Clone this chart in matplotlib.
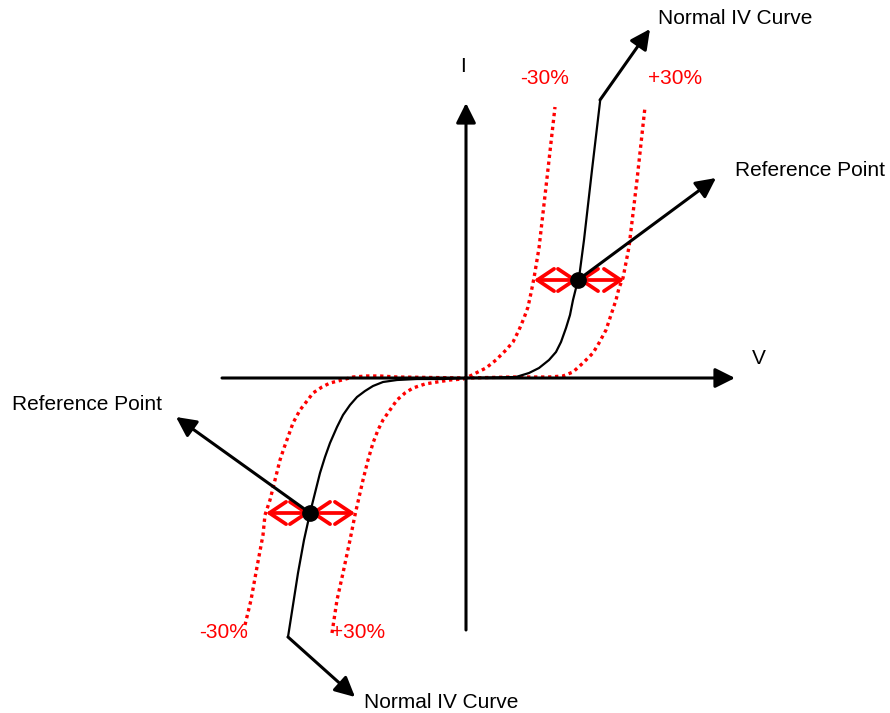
import matplotlib
matplotlib.use("Agg")
import matplotlib.pyplot as plt

plt.rcParams['font.family'] = ['Liberation Sans', 'DejaVu Sans']

# Schematic IV curves (V, I) relative to the origin of the axes
normal_v = [-178, -168, -162, -156, -151, -146, -141, -136, -129, -123, -116, -109, -101, -93, -83, -69, -49, -23,
            0, 50, 63, 73, 83, 90, 95, 100, 104, 107, 110, 113, 118, 126, 134]
normal_i = [-259, -195, -162, -135, -115, -95, -79, -65, -49, -37, -27, -19, -13, -8, -4, -2, -1, -1,
            0, 1, 5, 10, 18, 26, 36, 50, 63, 78, 90, 100, 138, 208, 276]

minus30_v = [-134, -129, -123, -116, -111, -106, -103, -98, -93, -88, -83, -76, -69, -61, -53, -41, -29, -16, -3,
             0, 10, 20, 30, 40, 47, 53, 58, 62, 65, 68, 73, 81, 89]
minus30_i = [-255, -222, -195, -162, -137, -115, -102, -82, -65, -52, -42, -32, -22, -15, -10, -6, -4, -2, -1,
             0, 5, 10, 18, 28, 36, 48, 60, 71, 85, 100, 130, 200, 271]

plus30_v = [-221, -215, -209, -203, -201, -196, -191, -186, -182, -178, -173, -166, -159, -153, -144, -136, -124,
            -113, -99, -86, -69, 0, 47, 83, 97, 107, 117, 127, 133, 140, 145, 150, 153, 157, 163, 171, 179]
plus30_i = [-247, -222, -189, -157, -137, -122, -102, -82, -70, -59, -45, -32, -23, -15, -9, -5, -2,
            1, 2, 2, 1, 0, 1, 1, 2, 6, 15, 25, 35, 48, 63, 78, 90, 100, 131, 198, 271]

ref_v = [-156, 112]
ref_i = [-135, 98]
ref_left = [-200, 68]
ref_right = [-111, 158]

fig = plt.figure(figsize=(8.9, 7.13), dpi=100)
ax = fig.add_axes([0, 0, 1, 1])
ax.set_xlim(-466, 424)
ax.set_ylim(-335, 378)
ax.axis('off')

head = '-|>,head_length=0.6,head_width=0.3'
# axes with arrows
ax.annotate('', xy=(269, 0), xytext=(-244, 0),
            arrowprops=dict(arrowstyle=head, color='black', lw=2.2, mutation_scale=20, shrinkA=0, shrinkB=0))
ax.annotate('', xy=(0, 275), xytext=(0, -252),
            arrowprops=dict(arrowstyle=head, color='black', lw=2.2, mutation_scale=20, shrinkA=0, shrinkB=0))

# curves
ax.plot(minus30_v, minus30_i, color='red', lw=2.4, linestyle=(0, (1, 1.1)))
ax.plot(plus30_v, plus30_i, color='red', lw=2.4, linestyle=(0, (1, 1.1)))
ax.plot(normal_v, normal_i, color='black', lw=1.6, solid_joinstyle='round')

# red double arrows at reference points
for v, i, l, r in zip(ref_v, ref_i, ref_left, ref_right):
    for end in (l, r):
        ax.annotate('', xy=(end, i), xytext=(v, i),
                    arrowprops=dict(arrowstyle='<->,head_length=0.6,head_width=0.4', color='red',
                                    lw=2.7, mutation_scale=20, shrinkA=0, shrinkB=0))

# black annotation arrows
black_arrows = [((134, 278), (184, 349)),
                ((112, 98), (250, 200)),
                ((-156, -135), (-290, -39)),
                ((-178, -259), (-111, -319))]
for start, end in black_arrows:
    ax.annotate('', xy=end, xytext=start,
                arrowprops=dict(arrowstyle=head, color='black', lw=2.2, mutation_scale=20, shrinkA=0, shrinkB=0))

ax.plot(ref_v, ref_i, 'o', color='black', markersize=11, zorder=10)

fs = 15
ax.text(192, 359, 'Normal IV Curve', fontsize=fs, ha='left', va='center')
ax.text(269, 208, 'Reference Point', fontsize=fs, ha='left', va='center')
ax.text(-454, -26, 'Reference Point', fontsize=fs, ha='left', va='center')
ax.text(-102, -324, 'Normal IV Curve', fontsize=fs, ha='left', va='center')
ax.text(-3, 312, 'I', fontsize=fs, ha='center', va='center')
ax.text(293, 20, 'V', fontsize=fs, ha='center', va='center')
ax.text(54, 300, '-30%', fontsize=fs, ha='left', va='center', color='red')
ax.text(182, 300, '+30%', fontsize=fs, ha='left', va='center', color='red')
ax.text(-267, -255, '-30%', fontsize=fs, ha='left', va='center', color='red')
ax.text(-135, -255, '+30%', fontsize=fs, ha='left', va='center', color='red')

fig.savefig('out.png', dpi=100)
